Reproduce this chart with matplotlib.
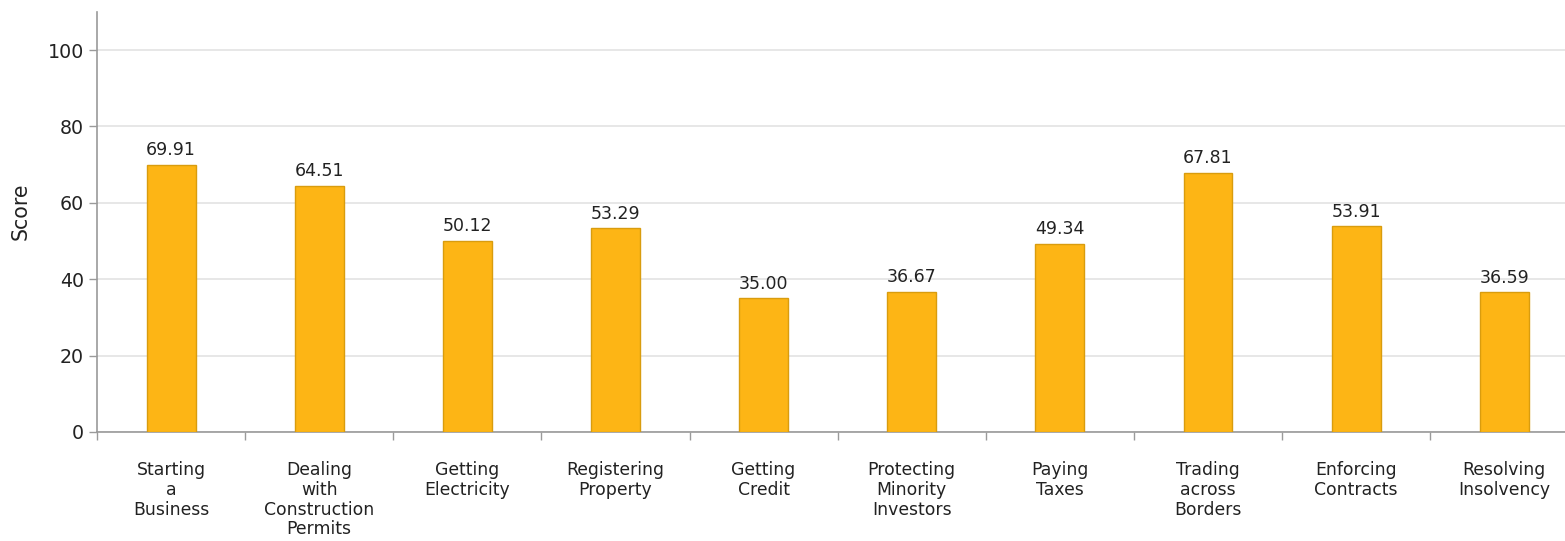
import numpy as np
import matplotlib
matplotlib.use("Agg")
import matplotlib.pyplot as plt

# Data

categories = ["Starting\na\nBusiness", "Dealing\nwith\nConstruction\nPermits",
              "Getting\nElectricity", "Registering\nProperty", "Getting\nCredit",
              "Protecting\nMinority\nInvestors", "Paying\nTaxes",
              "Trading\nacross\nBorders", "Enforcing\nContracts",
              "Resolving\nInsolvency"]
scores = [69.91, 64.51, 50.12, 53.29, 35.00, 36.67, 49.34, 67.81, 53.91, 36.59]
y_ticks = [0, 20, 40, 60, 80, 100]

bar_color = "#FDB515"
edge_color = "#D99C0E"
axis_color = "#9A9A9A"
text_color = "#222222"

fig = plt.figure(figsize=(15.65, 5.41), dpi=100)
ax = fig.add_axes([0.062, 0.2015, 0.938, 0.7765])

x = np.arange(len(categories))
bars = ax.bar(x, scores, width=0.33, color=bar_color, edgecolor=edge_color,
              linewidth=1.0, zorder=3)

for rect, val in zip(bars, scores):
    ax.annotate("%.2f" % val, (rect.get_x() + rect.get_width() / 2, val),
                xytext=(0, 4), textcoords="offset points", ha="center",
                va="bottom", fontsize=12.5, color=text_color)

ax.set_yticks(y_ticks)
ax.tick_params(axis="y", labelsize=13.7, colors=axis_color, labelcolor=text_color,
               length=6, width=1)
ax.grid(axis="y", color="#E3E3E3", linewidth=1.2, zorder=0)

# labels at centers, tick marks at category boundaries
ax.set_xticks(x)
ax.set_xticklabels(categories, fontsize=12.4, color=text_color, linespacing=1.12,
                   va="top")
ax.tick_params(axis="x", which="major", length=0, pad=21)
ax.set_xticks(np.arange(-0.5, len(categories), 1.0), minor=True)
ax.tick_params(axis="x", which="minor", length=6, width=1, colors=axis_color)

# limits after the ticks, otherwise set_xticks widens them
ax.set_xlim(-0.5, 9.41)
ax.set_ylim(0, 110)

ax.set_ylabel("Score", fontsize=14.8, color=text_color)
ax.yaxis.set_label_coords(-0.045, 0.526)

for side in ["top", "right"]:
    ax.spines[side].set_visible(False)
for side in ["left", "bottom"]:
    ax.spines[side].set_color(axis_color)
    ax.spines[side].set_linewidth(1.2)

fig.savefig("out.png", dpi=100)
